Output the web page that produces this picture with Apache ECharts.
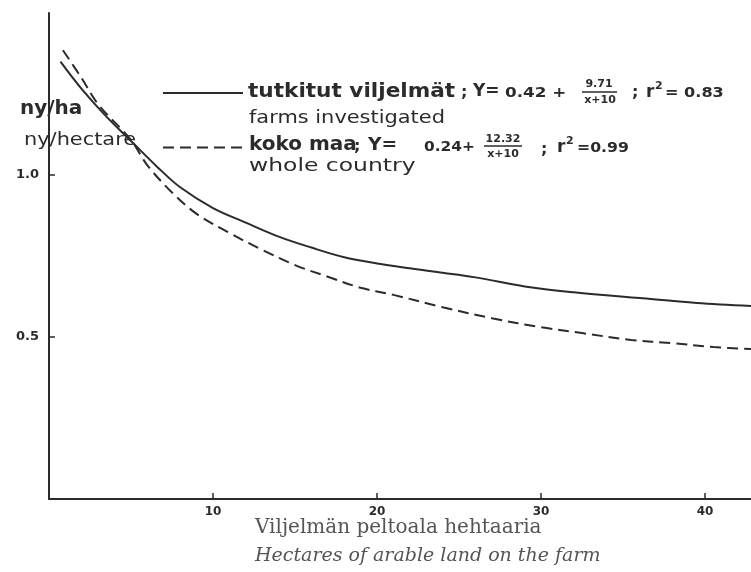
<!DOCTYPE html>
<html>
<head>
<meta charset="utf-8">
<script src="https://cdn.jsdelivr.net/npm/echarts@6/dist/echarts.min.js"></script>
<style>
html,body{margin:0;padding:0;background:#fff;}
#chart{width:751px;height:572px;}
</style>
</head>
<body>
<div id="chart"></div>
<script>
// Values
const farmsX = [0.7, 2, 3.5, 5, 6.6, 8, 10, 12, 14, 16, 18, 20, 22, 26, 29, 32, 36, 39.5, 42.8];
const farmsY = [1.35, 1.265, 1.18, 1.105, 1.025, 0.962, 0.898, 0.853, 0.81, 0.776, 0.746, 0.727, 0.712, 0.684, 0.656, 0.638, 0.62, 0.605, 0.596];
const countryX = [0.85, 2, 3, 5, 6, 7.5, 9, 11, 13, 15, 17, 19, 21, 24, 27, 30, 32.5, 35.5, 38, 40.5, 42.8];
const countryY = [1.385, 1.298, 1.218, 1.108, 1.03, 0.946, 0.88, 0.821, 0.769, 0.722, 0.686, 0.652, 0.63, 0.592, 0.558, 0.53, 0.512, 0.491, 0.481, 0.469, 0.463];
const xTicks = [10, 20, 30, 40];
const yTicks = [0.5, 1.0];
const seriesNames = ['tutkitut viljelmät', 'koko maa'];

const pair = (xs, ys) => xs.map((x, i) => [x, ys[i]]);
const ink = '#2b2b2b';
const geo = '"DejaVu Sans", sans-serif';
const serif = '"DejaVu Serif", "Liberation Serif", serif';

function txt(x, y, text, font, opts) {
  opts = opts || {};
  return {type: 'text', x: x, y: y, scaleX: opts.scaleX || 1,
    style: {text: text, font: font, fill: opts.fill || ink, verticalAlign: 'middle', align: opts.align || 'left'}};
}

const chart = echarts.init(document.getElementById('chart'), null, {renderer: 'canvas'});
chart.setOption({
  backgroundColor: '#fff',
  animation: false,
  grid: {left: 49, right: 0, top: 13, bottom: 73, containLabel: false},
  xAxis: {
    type: 'value', min: 0, max: 42.8, interval: 10,
    splitLine: {show: false},
    axisLine: {lineStyle: {color: ink, width: 2}},
    axisTick: {inside: true, length: 6, customValues: xTicks, lineStyle: {color: ink, width: 1.5}},
    axisLabel: {customValues: xTicks, margin: 7, color: ink, fontFamily: geo, fontWeight: 'bold', fontSize: 12}
  },
  yAxis: {
    type: 'value', min: 0, max: 1.5, interval: 0.5,
    splitLine: {show: false},
    axisLine: {show: true, lineStyle: {color: ink, width: 2}},
    axisTick: {inside: true, length: 6, customValues: yTicks, lineStyle: {color: ink, width: 1.5}},
    axisLabel: {customValues: yTicks, margin: 10, color: ink, fontFamily: geo, fontWeight: 'bold', fontSize: 13,
      formatter: v => v.toFixed(1)}
  },
  legend: {
    orient: 'vertical', left: 162, top: 86, padding: 0, itemWidth: 80, itemHeight: 14, itemGap: 42,
    formatter: () => '', data: seriesNames, selectedMode: false,
    itemStyle: {color: 'rgba(0,0,0,0)', borderWidth: 0, opacity: 0},
    textStyle: {fontSize: 1}
  },
  series: [
    {name: seriesNames[0], type: 'line', data: pair(farmsX, farmsY), smooth: 0.35, showSymbol: false, symbol: 'none',
     lineStyle: {color: ink, width: 2}, itemStyle: {color: ink}},
    {name: seriesNames[1], type: 'line', data: pair(countryX, countryY), smooth: 0.35, showSymbol: false, symbol: 'none',
     lineStyle: {color: ink, width: 2, type: [11, 6]}, itemStyle: {color: ink}}
  ],
  graphic: [
    txt(20, 109, 'ny/ha', '600 20px ' + geo),
    txt(24, 140, 'ny/hectare', '500 18px ' + geo, {scaleX: 1.16}),
    // line 1
    txt(248, 92, 'tutkitut viljelmät', 'bold 20px ' + geo, {scaleX: 1.08}),
    txt(461, 93, ';', 'bold 16px ' + geo),
    txt(473, 92, 'Y=', 'bold 17px ' + geo),
    txt(505, 93, '0.42 +', 'bold 14px ' + geo, {scaleX: 1.2}),
    txt(599, 84, '9.71', 'bold 11px ' + geo, {align: 'center'}),
    {type: 'line', shape: {x1: 582, y1: 92, x2: 617, y2: 92}, style: {stroke: ink, lineWidth: 1.5}},
    txt(600, 100, 'x+10', 'bold 11px ' + geo, {align: 'center'}),
    txt(632, 93, ';', 'bold 16px ' + geo),
    txt(646, 93, 'r', 'bold 17px ' + geo),
    txt(655, 86, '2', 'bold 11px ' + geo),
    txt(665, 93, '= 0.83', 'bold 14px ' + geo, {scaleX: 1.15}),
    txt(249, 119, 'farms investigated', '500 17px ' + geo, {scaleX: 1.23}),
    // line 2
    txt(249, 145, 'koko maa', 'bold 20px ' + geo),
    txt(354, 147, ';', 'bold 16px ' + geo),
    txt(368, 146, 'Y=', 'bold 17px ' + geo, {scaleX: 1.1}),
    txt(424, 147, '0.24+', 'bold 14px ' + geo, {scaleX: 1.1}),
    txt(503, 139, '12.32', 'bold 11px ' + geo, {align: 'center'}),
    {type: 'line', shape: {x1: 484, y1: 146, x2: 522, y2: 146}, style: {stroke: ink, lineWidth: 1.5}},
    txt(503, 154, 'x+10', 'bold 11px ' + geo, {align: 'center'}),
    txt(541, 150, ';', 'bold 16px ' + geo),
    txt(557, 148, 'r', 'bold 17px ' + geo),
    txt(566, 141, '2', 'bold 11px ' + geo),
    txt(577, 148, '=0.99', 'bold 14px ' + geo, {scaleX: 1.12}),
    txt(249, 167, 'whole country', '500 17px ' + geo, {scaleX: 1.38}),
    // axis titles
    txt(255, 528, 'Viljelmän peltoala hehtaaria', '20px ' + serif, {fill: '#555'}),
    txt(255, 556, 'Hectares of arable land on the farm', 'italic 19px ' + serif, {fill: '#555'})
  ]
});
</script>
</body>
</html>
